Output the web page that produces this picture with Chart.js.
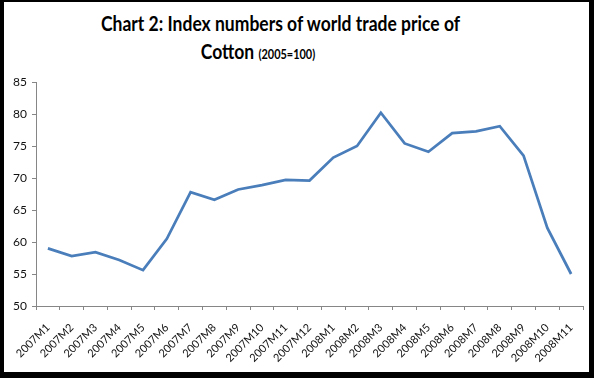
<!DOCTYPE html>
<html>
<head>
<meta charset="utf-8">
<script src="https://cdn.jsdelivr.net/npm/chart.js@4"></script>
<style>
	html, body { margin: 0; padding: 0; background: #000; }
	#frame { position: absolute; left: 4px; top: 2px; width: 585px; height: 370px; background: #fff; }
	#title { position: absolute; left: 0; top: 0; font-family: Lato, sans-serif; font-weight: bold; color: #000; }
	#title div { position: absolute; text-align: center; white-space: nowrap; transform: scaleX(0.875); font-size: 20px; line-height: 26px; }
	#title .l1 { left: 76px; width: 400px; top: 10px; }
	#title .l2 { left: 158px; width: 200px; top: 38px; }
	#title .small { font-size: 12.5px; }
	#wrap { position: absolute; left: 0; top: 0; width: 594px; height: 378px; }
</style>
</head>
<body>
<div id="frame"></div>
<div id="title">
	<div class="l1">Chart 2: Index numbers of world trade price of</div>
	<div class="l2">Cotton <span class="small">(2005=100)</span></div>
</div>
<div id="wrap"><canvas id="chart" width="594" height="378"></canvas></div>
<script>
const months = [
	'2007M1', '2007M2', '2007M3', '2007M4', '2007M5', '2007M6', '2007M7', '2007M8',
	'2007M9', '2007M10', '2007M11', '2007M12', '2008M1', '2008M2', '2008M3', '2008M4',
	'2008M5', '2008M6', '2008M7', '2008M8', '2008M9', '2008M10', '2008M11',
];
const cottonIndex = [
	59.0, 57.8, 58.4, 57.2, 55.6, 60.5, 67.8, 66.6, 68.2, 68.9, 69.7, 69.6,
	73.2, 75.0, 80.2, 75.4, 74.1, 77.0, 77.3, 78.1, 73.5, 62.2, 55.0,
];
const yMin = 50;
const yMax = 85;
const yStep = 5;

const axisGray = '#868686';
const ctx = document.getElementById('chart').getContext('2d');
// eslint-disable-next-line no-new
new Chart(ctx, {
	type: 'line',
	data: {
		labels: months,
		datasets: [
			{
				label: 'Cotton',
				data: cottonIndex,
				borderColor: '#4a7ebb',
				borderWidth: 2.75,
				pointRadius: 0,
				tension: 0,
			},
		],
	},
	options: {
		responsive: false,
		animation: false,
		layout: { padding: { top: 82, left: 6, right: 11, bottom: 0 } },
		plugins: { legend: { display: false }, tooltip: { enabled: false } },
		scales: {
			x: {
				offset: true,
				grid: { offset: true, drawOnChartArea: false, drawTicks: true, tickLength: 4, color: axisGray },
				border: { color: axisGray, width: 1 },
				ticks: {
					minRotation: 45,
					maxRotation: 45,
					autoSkip: false,
					padding: 11,
					color: '#111',
					font: { family: 'Lato, sans-serif', size: 11 },
				},
				afterFit: (scale) => { scale.height = 72; },
			},
			y: {
				min: yMin,
				max: yMax,
				grid: { drawOnChartArea: false, drawTicks: true, tickLength: 4, color: axisGray },
				border: { color: axisGray, width: 1 },
				ticks: {
					stepSize: yStep,
					padding: 5,
					color: '#111',
					font: { family: 'Lato, sans-serif', size: 12 },
				},
				afterFit: (scale) => { scale.width = 30; },
			},
		},
	},
});
</script>
</body>
</html>
